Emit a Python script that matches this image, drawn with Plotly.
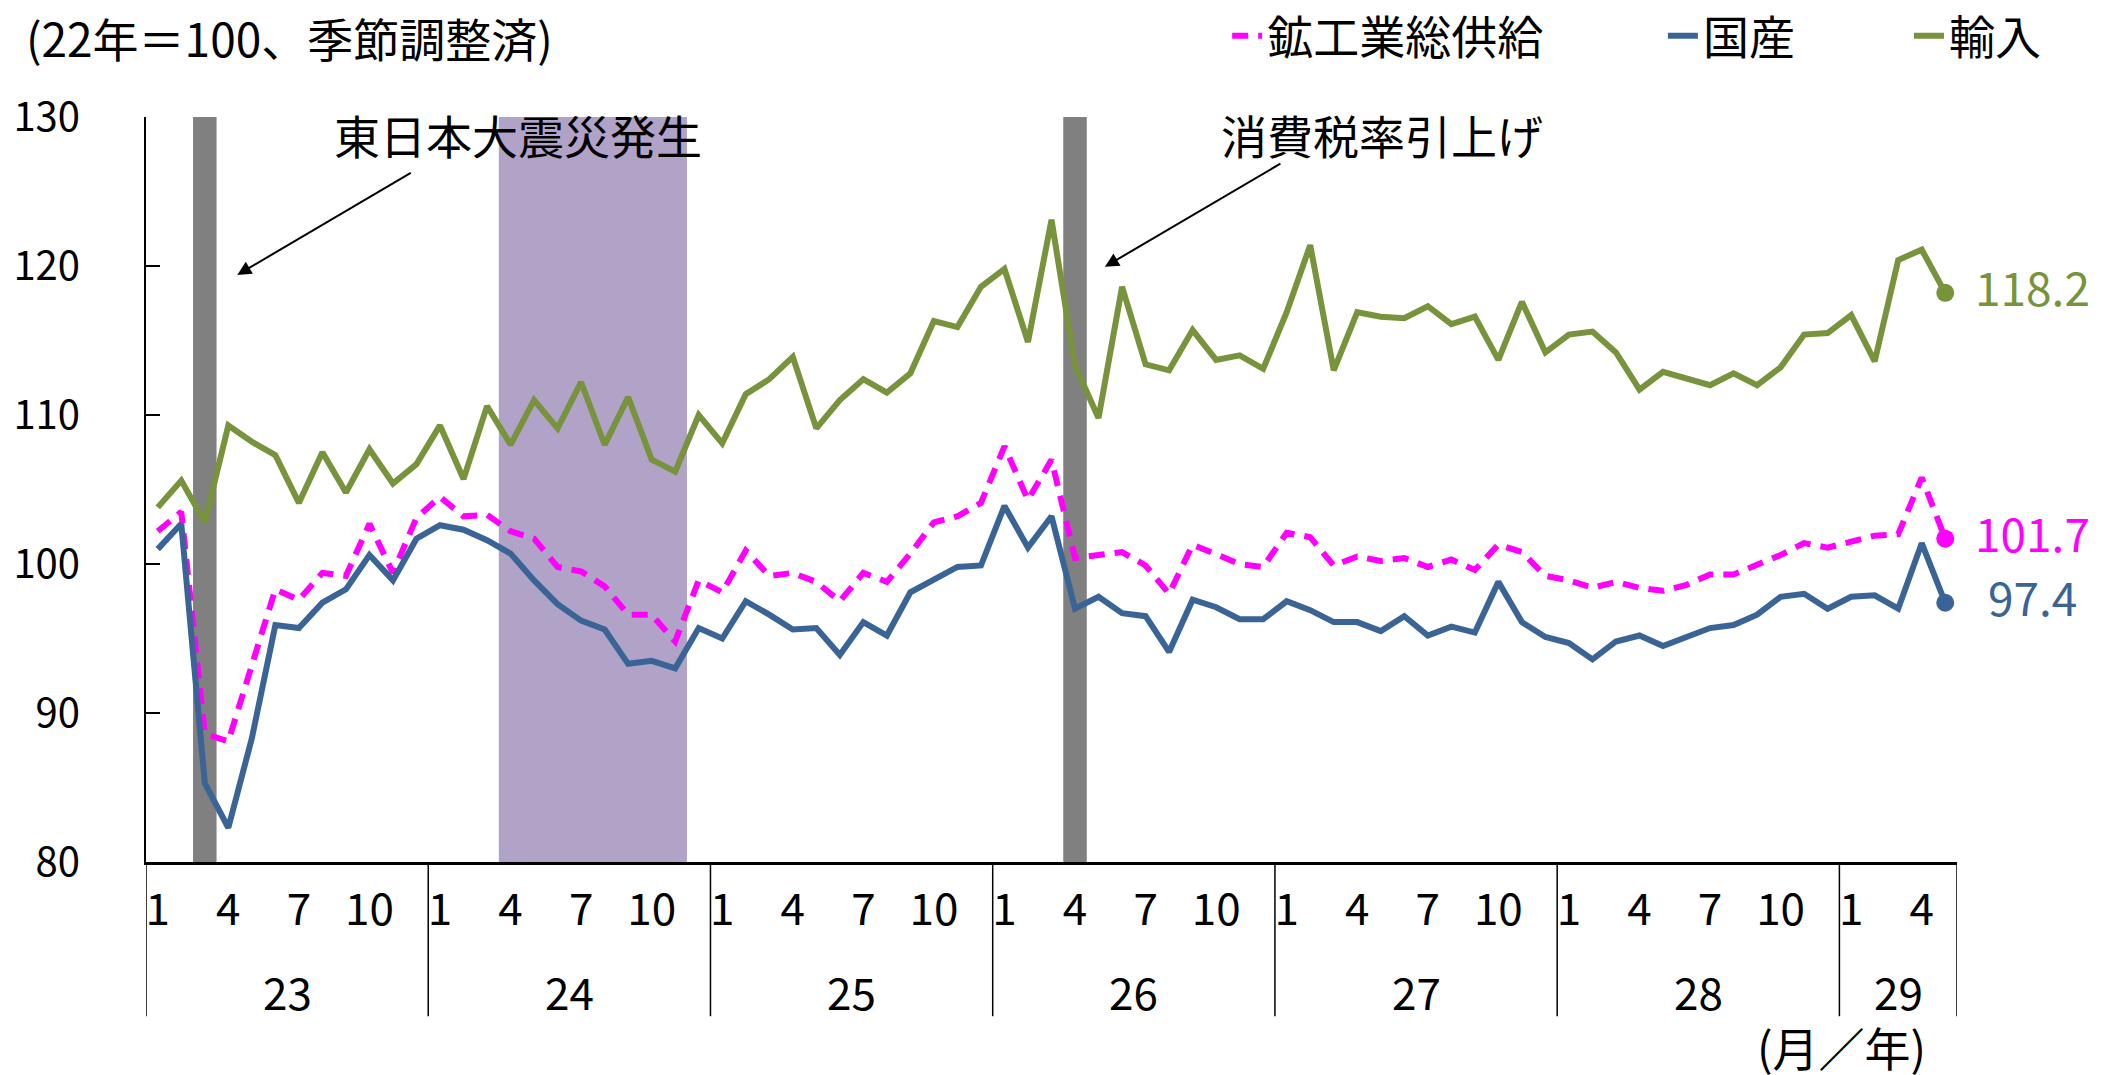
import plotly.graph_objects as go

# ---- data ----
years = ["23", "24", "25", "26", "27", "28", "29"]
months_in_year = [12, 12, 12, 12, 12, 12, 5]
label_months = [1, 4, 7, 10]

total_supply = [  # 鉱工業総供給
    102.2, 103.5, 88.6, 88.1, 93.2, 98.3, 97.6, 99.4, 99.2, 102.7, 99.4, 103.1,
    104.5, 103.2, 103.3, 102.2, 101.7, 99.8, 99.5, 98.5, 96.6, 96.6, 94.8, 98.9,
    98.1, 100.9, 99.2, 99.4, 98.8, 97.5, 99.4, 98.8, 100.7, 102.8, 103.2, 104.1,
    107.9, 104.3, 107.0, 100.4, 100.6, 100.8, 99.9, 98.0, 101.3, 100.6, 100.0, 99.8,
    102.1, 101.8, 99.9, 100.5, 100.2, 100.4, 99.8, 100.3, 99.6, 101.3, 100.8, 99.2,
    98.9, 98.4, 98.8, 98.4, 98.2, 98.6, 99.3, 99.3, 99.9, 100.6, 101.4, 101.1,
    101.5, 101.9, 102.0, 105.8, 101.7]
domestic = [  # 国産
    101.0, 102.7, 85.3, 82.3, 88.3, 95.9, 95.7, 97.4, 98.3, 100.6, 98.9, 101.7,
    102.6, 102.3, 101.6, 100.7, 98.9, 97.3, 96.2, 95.6, 93.3, 93.5, 93.0, 95.7,
    95.0, 97.5, 96.6, 95.6, 95.7, 93.9, 96.1, 95.2, 98.1, 99.0, 99.8, 99.9,
    103.9, 101.1, 103.2, 97.0, 97.8, 96.7, 96.5, 94.1, 97.6, 97.1, 96.3, 96.3,
    97.5, 96.9, 96.1, 96.1, 95.5, 96.5, 95.2, 95.8, 95.4, 98.8, 96.1, 95.1,
    94.7, 93.6, 94.8, 95.2, 94.5, 95.1, 95.7, 95.9, 96.6, 97.8, 98.0, 97.0,
    97.8, 97.9, 97.0, 101.4, 97.4]
imports = [  # 輸入
    103.8, 105.6, 102.8, 109.3, 108.2, 107.3, 104.1, 107.5, 104.8, 107.7, 105.4, 106.7,
    109.3, 105.7, 110.6, 108.0, 111.0, 109.1, 112.2, 108.0, 111.2, 107.0, 106.2, 110.0,
    108.1, 111.4, 112.4, 113.9, 109.1, 111.0, 112.4, 111.5, 112.8, 116.3, 115.9, 118.6,
    119.8, 114.9, 123.1, 113.3, 109.8, 118.6, 113.4, 113.0, 115.7, 113.7, 114.0, 113.1,
    116.9, 121.4, 113.0, 116.9, 116.6, 116.5, 117.3, 116.1, 116.6, 113.7, 117.6, 114.2,
    115.4, 115.6, 114.2, 111.7, 112.9, 112.4, 112.0, 112.8, 112.0, 113.2, 115.4, 115.5,
    116.7, 113.6, 120.4, 121.1, 118.2]

# shaded periods (year, month) inclusive
quake_month = ("23", 3)
recession = (("24", 4), ("24", 11))
tax_month = ("26", 4)

series_names = ["鉱工業総供給", "国産", "輸入"]
colors = ["#FF00FF", "#3A6496", "#77933C"]

# ---- derived x positions ----
periods = []
for y, n in zip(years, months_in_year):
    for m in range(1, n + 1):
        periods.append((y, m))
x_idx = list(range(len(periods)))
pos = {p: i for i, p in enumerate(periods)}

FONT = "Noto Sans CJK JP"
fig = go.Figure()

dashes = ["16px,10px", "solid", "solid"]
legend_ids = ["legend", "legend2", "legend3"]
for name, vals, col, dash, lg in zip(series_names, [total_supply, domestic, imports], colors, dashes, legend_ids):
    fig.add_trace(go.Scatter(x=x_idx, y=vals, mode="lines", name=name, legend=lg,
                             line=dict(color=col, width=6, dash=dash)))
for vals, col in zip([total_supply, domestic, imports], colors):
    fig.add_trace(go.Scatter(x=[x_idx[-1]], y=[vals[-1]], mode="markers", showlegend=False,
                             marker=dict(color=col, size=18)))

shapes = []
def band(p0, p1, color):
    shapes.append(dict(type="rect", xref="x", yref="y", x0=pos[p0] - 0.5, x1=pos[p1] + 0.5,
                       y0=80, y1=130, fillcolor=color, line=dict(width=0), layer="below"))
band(quake_month, quake_month, "#808080")
band(recession[0], recession[1], "#B1A3C7")
band(tax_month, tax_month, "#808080")

# year dividers and labels
annotations = []
start = 0
for y, n in zip(years, months_in_year):
    shapes.append(dict(type="line", xref="x", yref="paper", x0=start - 0.5, x1=start - 0.5,
                       y0=0, y1=-0.207, line=dict(color="black", width=1.5)))
    annotations.append(dict(x=start + (n - 1) / 2, y=-0.173, xref="x", yref="paper",
                            xanchor="center", yanchor="middle",
                            text=y, showarrow=False, font=dict(size=44, color="black", family=FONT)))
    start += n
shapes.append(dict(type="line", xref="x", yref="paper", x0=start - 0.5, x1=start - 0.5,
                   y0=0, y1=-0.207, line=dict(color="black", width=1.5)))

# end value labels
for vals, col, xs in zip([total_supply, domestic, imports], colors, [28, 41, 28]):
    annotations.append(dict(x=x_idx[-1], y=vals[-1], xref="x", yref="y", text=f"{vals[-1]:.1f}",
                            showarrow=False, xanchor="left", yanchor="middle", xshift=xs, yshift=7,
                            font=dict(size=46, color=col, family=FONT)))

# event annotations
annotations.append(dict(x=15.33, y=128.68, xref="x", yref="y", text="東日本大震災発生",
                        xanchor="center", yanchor="middle", yshift=3,
                        showarrow=False, font=dict(size=46, color="black", family=FONT)))
annotations.append(dict(x=52.05, y=128.68, xref="x", yref="y", text="消費税率引上げ",
                        xanchor="center", yanchor="middle", yshift=3,
                        showarrow=False, font=dict(size=46, color="black", family=FONT)))
annotations.append(dict(x=3.38, y=119.4, xref="x", yref="y", text="", showarrow=True,
                        ax=175, ay=-103, arrowhead=2, arrowsize=1.4, arrowwidth=2, arrowcolor="black"))
annotations.append(dict(x=40.27, y=119.95, xref="x", yref="y", text="", showarrow=True,
                        ax=177, ay=-104, arrowhead=2, arrowsize=1.4, arrowwidth=2, arrowcolor="black"))

annotations.append(dict(x=-0.0671, y=1.1074, xref="paper", yref="paper", text="(22年＝100、季節調整済)",
                        showarrow=False, xanchor="left", yanchor="middle",
                        font=dict(size=46, color="black", family=FONT)))
annotations.append(dict(x=0.936, y=-0.247, xref="paper", yref="paper", text="(月／年)",
                        showarrow=False, xanchor="center", yanchor="middle",
                        font=dict(size=46, color="black", family=FONT)))

tickvals = [i for i, (y, m) in enumerate(periods) if m in label_months]
ticktext = [str(periods[i][1]) for i in tickvals]

def leg(xp):
    return dict(orientation="h", x=xp, xanchor="left", y=1.109, yanchor="middle",
                font=dict(size=46, family=FONT), bgcolor="rgba(0,0,0,0)")

# the page places the figure 8px in from the top-left corner; margins compensate
fig.update_layout(
    width=2114, height=1075,
    margin=dict(l=138, r=165, t=109, b=221, autoexpand=False),
    paper_bgcolor="white", plot_bgcolor="white",
    font=dict(family=FONT, color="black", size=44),
    shapes=shapes, annotations=annotations,
    legend=leg(0.597), legend2=leg(0.8376), legend3=leg(0.9735),
    xaxis=dict(range=[-0.5, len(periods) - 0.5], tickvals=tickvals, ticktext=ticktext,
               showgrid=False, zeroline=False, showline=True, linecolor="black", linewidth=3,
               ticks="", tickfont=dict(size=44, family=FONT), ticklabelstandoff=7),
    yaxis=dict(range=[80, 130], dtick=10, showgrid=False, zeroline=False, showline=True,
               linecolor="black", linewidth=2, ticks="inside", ticklen=14, tickwidth=2,
               tickcolor="black", tickfont=dict(size=40, family=FONT), ticklabelstandoff=56),
)

fig.write_html("out.html")
